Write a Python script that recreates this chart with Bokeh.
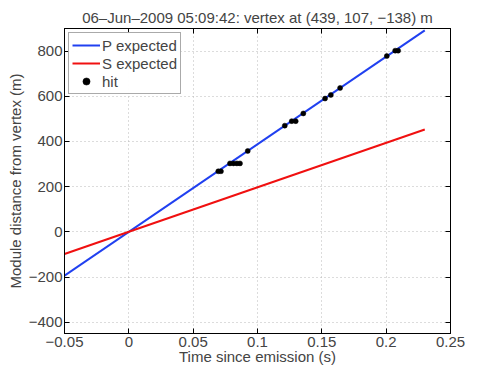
from bokeh.plotting import figure
from bokeh.models import (Range1d, SingleIntervalTicker, LinearAxis, CustomJSTickFormatter,
                          Legend, LegendItem)
from bokeh.embed import file_html
from bokeh.resources import INLINE

# ---- data ----
title_text = "06–Jun–2009 05:09:42: vertex at (439, 107, −138) m"
x_label = "Time since emission (s)"
y_label = "Module distance from vertex (m)"
line_t = [-0.05, 0.23]
p_expected = [-194, 892]
s_expected = [-98, 453]
hit_t = [0.0695, 0.0716, 0.0786, 0.0813, 0.0840, 0.0864, 0.0924, 0.1212, 0.1266,
         0.1297, 0.1356, 0.1525, 0.1570, 0.1642, 0.2005, 0.2070, 0.2093]
hit_d = [268, 268, 303, 303, 303, 303, 358, 470, 490, 490, 524, 590, 606, 637,
         778, 802, 802]
x_limits = (-0.05, 0.25)
y_limits = (-450, 900)

FONT = "Liberation Sans"
FS = "15px"

p = figure(width=482, height=367, output_backend="svg", toolbar_location=None,
           x_range=Range1d(*x_limits), y_range=Range1d(*y_limits),
           min_border_left=64, min_border_right=32, min_border_top=28,
           min_border_bottom=34)
p.title.text = title_text
p.title.align = "center"
p.title.text_font = FONT
p.title.text_font_size = FS
p.title.text_font_style = "normal"
p.title.standoff = 6
p.title.offset = 0

xt = SingleIntervalTicker(interval=0.05, num_minor_ticks=0)
yt = SingleIntervalTicker(interval=200, num_minor_ticks=0)
fmt_code = "var s = (Math.round(tick*1000)/1000).toString(); return s.replace('-', '\u2212');"

p.xaxis.ticker = xt
p.yaxis.ticker = yt
p.xaxis.formatter = CustomJSTickFormatter(code=fmt_code)
p.yaxis.formatter = CustomJSTickFormatter(code=fmt_code)
p.xaxis.axis_label = x_label
p.yaxis.axis_label = y_label
for ax in (p.xaxis, p.yaxis):
    ax.axis_label_text_font = FONT
    ax.axis_label_text_font_size = FS
    ax.axis_label_text_font_style = "normal"
    ax.major_label_text_font = FONT
    ax.major_label_text_font_size = FS
    ax.major_tick_in = 5
    ax.major_tick_out = 0
    ax.minor_tick_in = 0
    ax.minor_tick_out = 0
    ax.axis_line_color = "black"
    ax.major_tick_line_color = "black"
p.xaxis.major_label_standoff = 3
p.xaxis.axis_label_standoff = -2
p.yaxis.major_label_standoff = 2
p.yaxis.axis_label_standoff = 2

for loc, tk in (("above", xt), ("right", yt)):
    ax = LinearAxis(ticker=tk, formatter=CustomJSTickFormatter(code="return '';"),
                    major_tick_in=5, major_tick_out=0, minor_tick_in=0, minor_tick_out=0,
                    major_label_standoff=0, axis_line_color="black")
    p.add_layout(ax, loc)

p.outline_line_color = "black"
p.grid.grid_line_color = "#b8b8b8"
p.grid.grid_line_dash = "1 3"
p.xgrid.ticker = xt
p.ygrid.ticker = yt

rp = p.line(line_t, p_expected, line_color="#2040f0", line_width=2)
rs = p.line(line_t, s_expected, line_color="#f01010", line_width=2)
rh = p.scatter(hit_t, hit_d, size=5, fill_color="black", line_color="black", line_width=0.5)

legend = Legend(items=[LegendItem(label="P expected", renderers=[rp]),
                       LegendItem(label="S expected", renderers=[rs]),
                       LegendItem(label="hit", renderers=[rh])],
                location="top_left")
legend.label_text_font = FONT
legend.label_text_font_size = FS
legend.border_line_color = "#555555"
legend.border_line_width = 1
legend.margin = 4
legend.padding = 3
legend.spacing = 0
legend.glyph_width = 28
legend.glyph_height = 18
legend.label_height = 18
legend.label_standoff = 2
p.add_layout(legend)

open("out.html", "w", encoding="utf-8").write(file_html(p, INLINE))
